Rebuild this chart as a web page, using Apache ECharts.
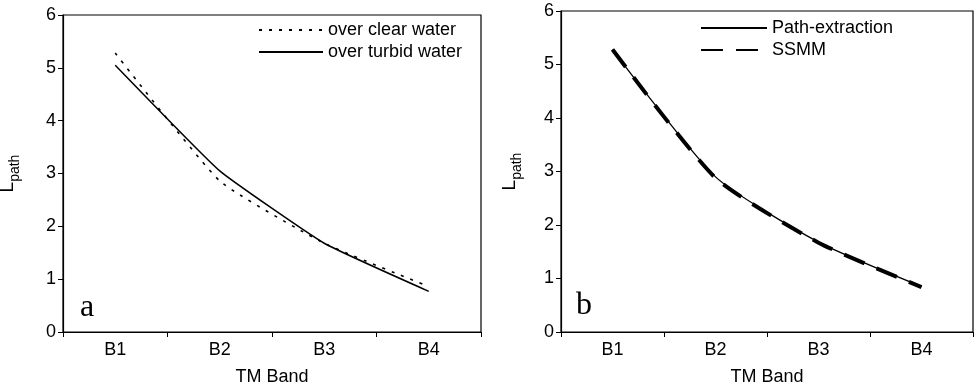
<!DOCTYPE html>
<html>
<head>
<meta charset="utf-8">
<script src="https://cdn.jsdelivr.net/npm/echarts@6/dist/echarts.min.js"></script>
<style>
  html, body { margin: 0; padding: 0; background: #fff; }
  #chart { width: 979px; height: 388px; }
</style>
</head>
<body>
<div id="chart"></div>
<script>
// TM bands on the x axis of both panels
const bands = ['B1', 'B2', 'B3', 'B4'];
const yTicks = [0, 1, 2, 3, 4, 5, 6];

// Panel a: path radiance over clear vs. turbid water
const clearWater = [5.28, 2.86, 1.68, 0.86];
const turbidWater = [5.05, 3.05, 1.68, 0.77];

// Panel b: path radiance from path extraction vs. SSMM
const pathExtraction = [5.28, 2.9, 1.68, 0.85];
const ssmm = [5.28, 2.88, 1.67, 0.84];

const FONT = 'Liberation Sans, Arial, sans-serif';
const SERIF = 'Liberation Serif, Times New Roman, serif';
const INK = '#000';

function xAxisFor(gridIndex) {
  return {
    type: 'category', gridIndex, data: bands, boundaryGap: true,
    name: 'TM Band', nameLocation: 'middle', nameGap: 36,
    nameTextStyle: { fontFamily: FONT, fontSize: 18, color: INK },
    axisLine: { lineStyle: { color: INK, width: 1.2 } },
    axisTick: { show: true, inside: false, length: 5, interval: 0, lineStyle: { color: INK } },
    axisLabel: { fontFamily: FONT, fontSize: 18, color: INK, margin: 9 },
    splitLine: { show: false }
  };
}

function yAxisFor(gridIndex, gap) {
  return {
    type: 'value', gridIndex, min: yTicks[0], max: yTicks[yTicks.length - 1], interval: 1,
    name: '{l|L}{s|path}', nameLocation: 'middle', nameRotate: 90, nameGap: gap,
    nameTextStyle: {
      fontFamily: FONT, color: INK,
      rich: {
        l: { fontFamily: FONT, fontSize: 19, color: INK, lineHeight: 24, verticalAlign: 'top' },
        s: { fontFamily: FONT, fontSize: 14, color: INK, lineHeight: 24, verticalAlign: 'bottom' }
      }
    },
    axisLine: { show: true, lineStyle: { color: INK, width: 1.2 } },
    axisTick: { show: true, inside: false, length: 5, lineStyle: { color: INK } },
    axisLabel: { fontFamily: FONT, fontSize: 18, color: INK, margin: 7 },
    splitLine: { show: false }
  };
}

function lineSeries(name, data, idx, style, smooth) {
  return {
    name, type: 'line', data, xAxisIndex: idx, yAxisIndex: idx,
    symbol: 'none', smooth, lineStyle: Object.assign({ color: INK }, style),
    itemStyle: { color: INK }, z: style.width > 2 ? 3 : 4
  };
}

const legendBase = {
  orient: 'vertical', itemHeight: 16, itemGap: 4,
  itemStyle: { opacity: 0 }
};

const chart = echarts.init(document.getElementById('chart'), null, { renderer: 'canvas' });
chart.setOption({
  backgroundColor: '#fff',
  animation: false,
  grid: [
    { left: 63, right: 498, top: 15, bottom: 56, show: true, borderColor: INK, borderWidth: 1.2,
      backgroundColor: 'transparent', outerBoundsMode: 'none', containLabel: false },
    { left: 561, right: 6, top: 11, bottom: 56, show: true, borderColor: INK, borderWidth: 1.2,
      backgroundColor: 'transparent', outerBoundsMode: 'none', containLabel: false }
  ],
  title: [
    { text: 'a', left: 75, top: 287, textStyle: { fontFamily: SERIF, fontSize: 32, fontWeight: 'normal', color: INK } },
    { text: 'b', left: 571, top: 285, textStyle: { fontFamily: SERIF, fontSize: 32, fontWeight: 'normal', color: INK } }
  ],
  legend: [
    Object.assign({}, legendBase, {
      data: ['over clear water', 'over turbid water'],
      left: 253, top: 16, itemWidth: 64,
      textStyle: { fontFamily: FONT, fontSize: 18, color: INK, padding: [0, 0, 0, 0] }
    }),
    Object.assign({}, legendBase, {
      data: ['Path-extraction', 'SSMM'],
      left: 695, top: 14, itemWidth: 66,
      textStyle: { fontFamily: FONT, fontSize: 18, color: INK, padding: [0, 0, 0, 0] }
    })
  ],
  xAxis: [xAxisFor(0), xAxisFor(1)],
  yAxis: [yAxisFor(0, 41), yAxisFor(1, 37)],
  series: [
    lineSeries('over clear water', clearWater, 0, { width: 1.6, type: [3, 7] }, 0.15),
    lineSeries('over turbid water', turbidWater, 0, { width: 1.5, type: 'solid' }, 0.12),
    lineSeries('Path-extraction', pathExtraction, 1, { width: 1.3, type: 'solid' }, 0.2),
    lineSeries('SSMM', ssmm, 1, { width: 4, type: [22, 13] }, 0.2)
  ]
});
</script>
</body>
</html>
